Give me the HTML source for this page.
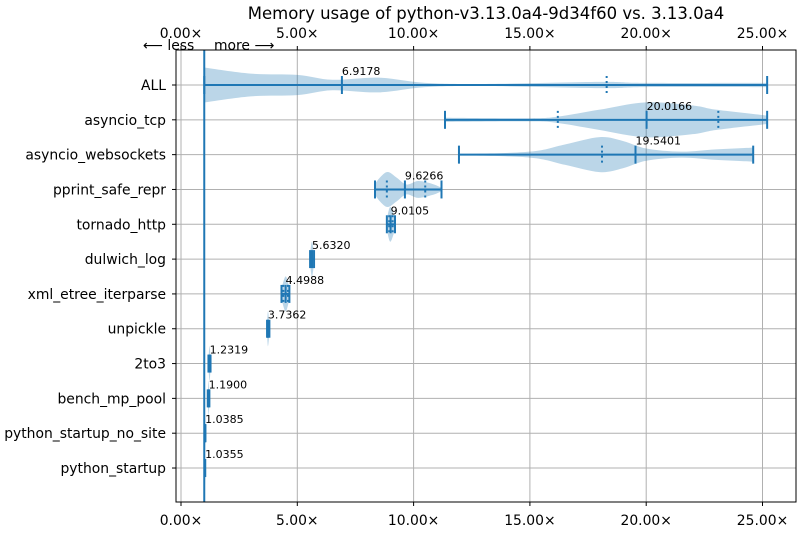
<!DOCTYPE html>
<html><head><meta charset="utf-8"><style>
body{margin:0;background:#fff;font-family:"Liberation Sans","DejaVu Sans",sans-serif}
svg text{font-family:"DejaVu Sans","Liberation Sans",sans-serif}
</style></head><body>
<svg id="c" width="800" height="530" xmlns="http://www.w3.org/2000/svg">
<text x="486" y="19" font-size="16.5" text-anchor="middle">Memory usage of python-v3.13.0a4-9d34f60 vs. 3.13.0a4</text>
<text x="143" y="50" font-size="13.9">⟵ less</text>
<text x="214" y="50" font-size="13.9">more ⟶</text>
<g id="grid"></g><g id="marks"></g><g id="axes"></g>
</svg>
<script>
const categories=["ALL","asyncio_tcp","asyncio_websockets","pprint_safe_repr","tornado_http","dulwich_log","xml_etree_iterparse","unpickle","2to3","bench_mp_pool","python_startup_no_site","python_startup"];
const medians=[6.9178,20.0166,19.5401,9.6266,9.0105,5.6320,4.4988,3.7362,1.2319,1.1900,1.0385,1.0355];
const mins=[1.0,11.35,11.95,8.34,8.85,5.55,4.32,3.70,1.18,1.15,1.03,1.03];
const maxs=[25.2,25.2,24.6,11.2,9.2,5.72,4.66,3.80,1.27,1.22,1.05,1.04];
const quartiles=[[18.3],[16.2,23.1],[18.1],[8.85,10.5],[8.95,9.1],[],[4.4,4.6],[],[],[],[],[]];
const densX=[[1,3,5,6.5,8.5,10.5,13,18,20,25.2],[11.35,15,16.2,18,20,22,23,25.2],[11.95,15,16.5,18,19,20,21.5,23,24.6],[8.34,8.6,8.9,9.3,9.7,10.2,10.8,11.2],[8.85,9.0,9.2],[5.55,5.63,5.72],[4.32,4.5,4.66],[3.70,3.74,3.80],[1.18,1.23,1.27],[1.15,1.19,1.22],[1.03,1.04,1.05],[1.03,1.035,1.04]];
const densW=[[1,0.65,0.58,0.3,0.42,0.12,0.06,0.18,0.12,0.12],[0.12,0.09,0.18,0.58,1,0.82,0.58,0.24],[0.03,0.17,0.58,1,0.78,0.35,0.17,0.3,0.4],[0.32,0.75,1,0.65,0.28,0.48,0.32,0.1],[0.3,1,0.3],[0.3,1,0.3],[0.3,1,0.3],[0.3,1,0.3],[0.3,1,0.3],[0.3,1,0.3],[0.3,1,0.3],[0.3,1,0.3]];
const xTicks=[0,5,10,15,20,25];
const X0=176,X1=796,Y0=50,Y1=502;
const xs=v=>181+v*23.26;
const ys=i=>85+i*34.82;
const ns="http://www.w3.org/2000/svg";
function mk(p,t,a){const e=document.createElementNS(ns,t);for(const k in a)e.setAttribute(k,a[k]);document.getElementById(p).appendChild(e);return e;}
function smooth(pts){let d="M"+pts[0][0]+","+pts[0][1];for(let i=0;i<pts.length-1;i++){const p0=pts[Math.max(i-1,0)],p1=pts[i],p2=pts[i+1],p3=pts[Math.min(i+2,pts.length-1)];d+=" C"+(p1[0]+(p2[0]-p0[0])/6)+","+(p1[1]+(p2[1]-p0[1])/6)+" "+(p2[0]-(p3[0]-p1[0])/6)+","+(p2[1]-(p3[1]-p1[1])/6)+" "+p2[0]+","+p2[1];}return d;}
const C="#1f77b4";
xTicks.forEach(v=>{
 const g=mk("grid","line",{x1:xs(v),x2:xs(v),y1:Y0,y2:Y1,stroke:"#b0b0b0","stroke-width":1});
 
 
 [[Y1+4,Y1+23],[Y0-4,Y0-12]].forEach(([t,ty])=>{
  mk("axes","line",{x1:xs(v),x2:xs(v),y1:t>Y1?Y1:Y0,y2:t,stroke:"#000"});
  const tx=mk("axes","text",{x:xs(v),y:ty,"font-size":13.9,"text-anchor":"middle"});
  tx.textContent=v.toFixed(2)+"×";
  
  
 });
});
categories.forEach((c,i)=>{
 const y=ys(i);
 const g=mk("grid","line",{x1:X0,x2:X1,y1:y,y2:y,stroke:"#b0b0b0","stroke-width":1});
 
 
 mk("axes","line",{x1:X0-4,x2:X0,y1:y,y2:y,stroke:"#000"});
 const t=mk("axes","text",{x:X0-10,y:y+5,"font-size":13.9,"text-anchor":"end"});
 t.textContent=c;
 
 
});
const ax=mk("axes","rect",{x:X0,y:Y0,width:X1-X0,height:Y1-Y0,fill:"none",stroke:"#000"});


const ref=mk("marks","line",{x1:xs(1),x2:xs(1),y1:Y0,y2:Y1,stroke:C,"stroke-width":2});


categories.forEach((c,i)=>{
 const y=ys(i),dx=densX[i],dw=densW[i];
 const top=dx.map((v,k)=>[xs(v),y-dw[k]*17.5]);
 const bot=dx.map((v,k)=>[xs(v),y+dw[k]*17.5]).reverse();
 let d=smooth(top)+" L"+bot[0][0]+","+bot[0][1]+" "+smooth(bot).slice(1).replace(/^[^C]*/,"")+" Z";
 const p=mk("marks","path",{d:d,fill:C,"fill-opacity":0.3,stroke:"none"});
 
 
 const l=mk("marks","line",{x1:xs(mins[i]),x2:xs(maxs[i]),y1:y,y2:y,stroke:C,"stroke-width":2});
 
 
 [mins[i],maxs[i],medians[i]].forEach(v=>{
  const cp=mk("marks","line",{x1:xs(v),x2:xs(v),y1:y-9,y2:y+9,stroke:C,"stroke-width":2});
  
  
 });
 quartiles[i].forEach(v=>{
  const q=mk("marks","line",{x1:xs(v),x2:xs(v),y1:y-9,y2:y+9,stroke:C,"stroke-width":2,"stroke-dasharray":"2,3"});
  
  
 });
 const t=mk("marks","text",{x:xs(medians[i]),y:y-10,"font-size":11});
 t.textContent=medians[i].toFixed(4);
 
 
});
</script>
</body></html>
